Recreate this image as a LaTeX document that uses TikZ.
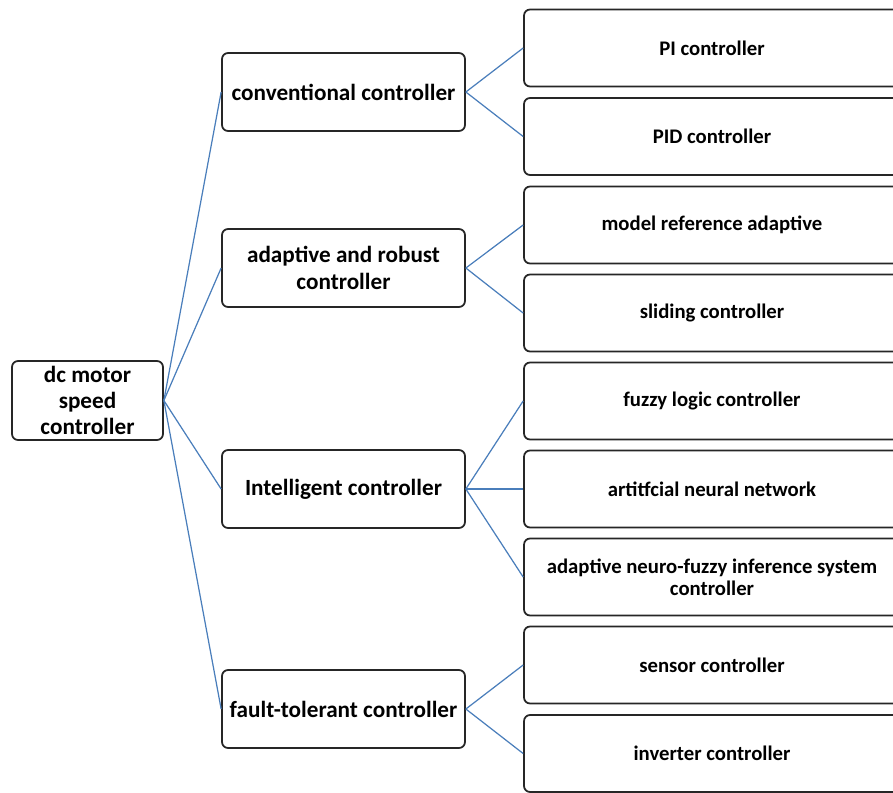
\documentclass[tikz,border=0pt]{standalone}
\usepackage{fontspec}
\setmainfont{Carlito}
\usepackage{tikz}
\usetikzlibrary{
	arrows.meta,
	positioning
}
\definecolor{main}{RGB}{74,126,187}
\tikzset{
  % line
	cstline/.style      ={main, line width=0.7pt},
  % node
	cstnode/.style      ={fill=white,draw=black!85,text=black,rounded corners=0.12cm,line width=1pt,
	                      align=center,inner sep=0pt,font=\fontsize{13.2}{15}\selectfont\bfseries},
	cstroot/.style      ={cstnode,minimum width=3.02cm,minimum height=1.58cm},
	cstmid/.style       ={cstnode,minimum width=4.86cm,minimum height=1.56cm},
	cstleaf/.style      ={cstnode,minimum width=7.52cm,minimum height=1.54cm,
	                      font=\fontsize{11.8}{12.5}\selectfont\bfseries}
}
\begin{document}
\begin{tikzpicture}[x=0.02cm,y=-0.02cm]
			\useasboundingbox (0,0) rectangle (893,792);
			\clip (0,0) rectangle (893,792);
			% root
			\node[cstroot] (root) at (87.5,400.5) {dc motor\\speed\\controller};
			% middle level
			\node[cstmid] (conv)  at (343.5,92)  {conventional controller};
			\node[cstmid] (adapt) at (343.5,268) {adaptive and robust\\controller};
			\node[cstmid] (intel) at (343.5,489) {Intelligent controller};
			\node[cstmid] (fault) at (343.5,709) {fault-tolerant controller};
			% leaves
			\node[cstleaf] (pi)      at (712,48)    {PI controller};
			\node[cstleaf] (pid)     at (712,136.5) {PID controller};
			\node[cstleaf] (mras)    at (712,225)   {model reference adaptive};
			\node[cstleaf] (sliding) at (712,313)   {sliding controller};
			\node[cstleaf] (fuzzy)   at (712,401)   {fuzzy logic controller};
			\node[cstleaf] (ann)     at (712,489)   {artitfcial neural network};
			\node[cstleaf] (anfis)   at (712,577)   {adaptive neuro-fuzzy inference system\\controller};
			\node[cstleaf] (sensor)  at (712,665)   {sensor controller};
			\node[cstleaf] (inv)     at (712,753.5) {inverter controller};
			% connectors
			\draw[cstline] (root.east)--(conv.west);
			\draw[cstline] (root.east)--(adapt.west);
			\draw[cstline] (root.east)--(intel.west);
			\draw[cstline] (root.east)--(fault.west);
			\draw[cstline] (conv.east)--(pi.west);
			\draw[cstline] (conv.east)--(pid.west);
			\draw[cstline] (adapt.east)--(mras.west);
			\draw[cstline] (adapt.east)--(sliding.west);
			\draw[cstline] (intel.east)--(fuzzy.west);
			\draw[cstline] (intel.east)--(ann.west);
			\draw[cstline] (intel.east)--(anfis.west);
			\draw[cstline] (fault.east)--(sensor.west);
			\draw[cstline] (fault.east)--(inv.west);
		\end{tikzpicture}
\end{document}
